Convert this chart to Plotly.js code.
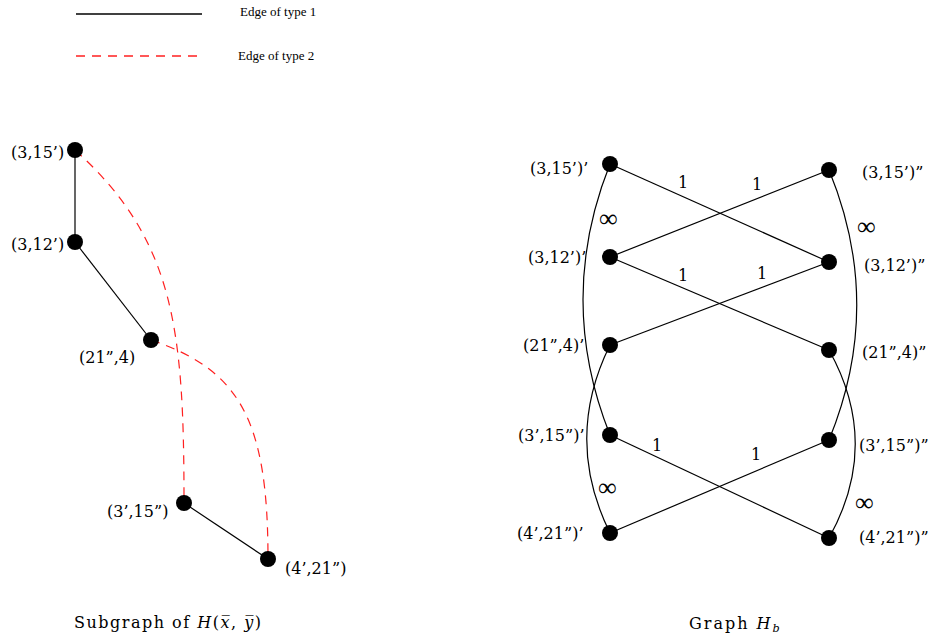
<!DOCTYPE html>
<html><head><meta charset="utf-8">
<script src="https://cdn.plot.ly/plotly-3.0.1.min.js"></script>
<style>html,body{margin:0;padding:0;background:#fff;}#chart{width:932px;height:639px;}</style>
</head><body><div id="chart"></div>
<script>
// ---------- DATA ----------
// Subgraph of H(x̄,ȳ)
const subNodeLabels = ["(3,15’)", "(3,12’)", "(21”,4)", "(3’,15”)", "(4’,21”)"];
const subNodeX = [75, 75, 151, 184, 268];
const subNodeY = [150, 242, 340, 503, 559];
const subType1Edges = [[0, 1], [1, 2], [3, 4]];
const subType2Edges = [[0, 3], [2, 4]];

// Graph H_b
const hbLeftLabels = ["(3,15’)’", "(3,12’)’", "(21”,4)’", "(3’,15”)’", "(4’,21”)’"];
const hbRightLabels = ["(3,15’)”", "(3,12’)”", "(21”,4)”", "(3’,15”)”", "(4’,21”)”"];
const hbLeftX = [610, 610, 610, 610, 610];
const hbLeftY = [164, 257, 345, 435, 533];
const hbRightX = [829, 829, 829, 829, 829];
const hbRightY = [170, 262, 350, 440, 538];
const hbCrossEdges = [[0, 1], [1, 0], [1, 2], [2, 1], [3, 4], [4, 3]]; // [left, right]
const hbCrossWeights = ["1", "1", "1", "1", "1", "1"];
const hbInfEdges = [[0, 3], [2, 4]]; // same-side arcs
const hbInfWeight = "∞";

const legendLabels = ["Edge of type 1", "Edge of type 2"];
const titles = ["Subgraph of <i>H</i>(<i>x̅</i>, <i>y̅</i>)", "Graph <i>H</i><sub><i>b</i></sub>"];

// ---------- STYLE ----------
const serif = "DejaVu Serif";
const black = "#000";
const red = "#ff2020";
const nodeSize = 16;
const lw = 1.2;
const subLabelStyle = [
  {xa: "right", xs: -9, ys: -2}, {xa: "right", xs: -9, ys: -2},
  {xa: "right", xs: -14, ys: -17}, {xa: "right", xs: -14, ys: -8},
  {xa: "left", xs: 15, ys: -9}
];
const hbLeftLabelStyle = [{xs: -20, ys: -4}, {xs: -22, ys: 0}, {xs: -24, ys: 0}, {xs: -24, ys: 0}, {xs: -25, ys: 0}];
const hbRightLabelStyle = [{xs: 31, ys: -2}, {xs: 33, ys: -3}, {xs: 31, ys: -2}, {xs: 28, ys: -5}, {xs: 28, ys: 1}];
const crossLabelT = [0.333, 0.671, 0.333, 0.694, 0.215, 0.667];
const crossLabelYS = [14, 14, 12, 14, 12, 16];
// bend control points for red curves (relative to endpoints)
const subCurveCtrl = [[[100, 90], [0, -173]], [[89, 30], [0, -139]]];
const leftArcBulge = [36, 31];
const rightArcBulge = [37, 35];
const infLabelPos = [[608, 218], [607, 487], [866, 226], [864, 502]];

// ---------- BUILD ----------
const traces = [];
const shapes = [];
const annotations = [];

function lineTrace(x0, y0, x1, y1) {
  return {x: [x0, x1], y: [y0, y1], type: "scatter", mode: "lines",
    line: {color: black, width: lw}, hoverinfo: "skip", showlegend: false};
}

// sub type 1 edges
subType1Edges.forEach(([a, b]) => traces.push(lineTrace(subNodeX[a], subNodeY[a], subNodeX[b], subNodeY[b])));
// sub type 2 edges (curved dashed)
subType2Edges.forEach(([a, b], i) => {
  const [c1, c2] = subCurveCtrl[i];
  const x0 = subNodeX[a], y0 = subNodeY[a], x1 = subNodeX[b], y1 = subNodeY[b];
  shapes.push({type: "path", xref: "x", yref: "y", layer: "below",
    path: `M ${x0},${y0} C ${x0 + c1[0]},${y0 + c1[1]} ${x1 + c2[0]},${y1 + c2[1]} ${x1},${y1}`,
    line: {color: red, width: lw, dash: "9px,7px"}});
});
// Hb cross edges
hbCrossEdges.forEach(([l, r], i) => {
  traces.push(lineTrace(hbLeftX[l], hbLeftY[l], hbRightX[r], hbRightY[r]));
  const t = crossLabelT[i];
  annotations.push({x: hbLeftX[l] + t * (hbRightX[r] - hbLeftX[l]), y: hbLeftY[l] + t * (hbRightY[r] - hbLeftY[l]),
    xref: "x", yref: "y", text: hbCrossWeights[i], showarrow: false, yshift: crossLabelYS[i],
    font: {family: serif, size: 16, color: black}});
});
// Hb arcs
hbInfEdges.forEach(([a, b], i) => {
  const x0 = hbLeftX[a], y0 = hbLeftY[a], x1 = hbLeftX[b], y1 = hbLeftY[b];
  const h = (y1 - y0) / 3, d = leftArcBulge[i];
  shapes.push({type: "path", xref: "x", yref: "y", layer: "below",
    path: `M ${x0},${y0} C ${x0 - d},${y0 + h} ${x1 - d},${y1 - h} ${x1},${y1}`,
    line: {color: black, width: lw}});
  const u0 = hbRightX[a], v0 = hbRightY[a], u1 = hbRightX[b], v1 = hbRightY[b];
  const g = (v1 - v0) / 3, e = rightArcBulge[i];
  shapes.push({type: "path", xref: "x", yref: "y", layer: "below",
    path: `M ${u0},${v0} C ${u0 + e},${v0 + g} ${u1 + e},${v1 - g} ${u1},${v1}`,
    line: {color: black, width: lw}});
});
infLabelPos.forEach(p => annotations.push({x: p[0], y: p[1], xref: "x", yref: "y", text: hbInfWeight,
  showarrow: false, font: {family: "Liberation Serif", size: 26, color: black}}));

// nodes
traces.push({x: subNodeX.concat(hbLeftX, hbRightX), y: subNodeY.concat(hbLeftY, hbRightY),
  type: "scatter", mode: "markers", marker: {color: black, size: nodeSize}, hoverinfo: "skip", showlegend: false});

// labels
const lblFont = {family: serif, size: 16, color: black};
subNodeLabels.forEach((t, i) => annotations.push({x: subNodeX[i], y: subNodeY[i], xref: "x", yref: "y", text: t,
  showarrow: false, xanchor: subLabelStyle[i].xa, xshift: subLabelStyle[i].xs, yshift: subLabelStyle[i].ys, font: lblFont}));
hbLeftLabels.forEach((t, i) => annotations.push({x: hbLeftX[i], y: hbLeftY[i], xref: "x", yref: "y", text: t,
  showarrow: false, xanchor: "right", xshift: hbLeftLabelStyle[i].xs, yshift: hbLeftLabelStyle[i].ys, font: lblFont}));
hbRightLabels.forEach((t, i) => annotations.push({x: hbRightX[i], y: hbRightY[i], xref: "x", yref: "y", text: t,
  showarrow: false, xanchor: "left", xshift: hbRightLabelStyle[i].xs, yshift: hbRightLabelStyle[i].ys, font: lblFont}));

// legend (drawn)
shapes.push({type: "line", xref: "x", yref: "y", x0: 76, x1: 202, y0: 14, y1: 14, line: {color: black, width: 1.3}});
shapes.push({type: "line", xref: "x", yref: "y", x0: 76, x1: 202, y0: 56, y1: 56, line: {color: red, width: 1.3, dash: "9px,7px"}});
annotations.push({x: 238, y: 11, xref: "x", yref: "y", text: legendLabels[0], showarrow: false, xanchor: "left",
  font: {family: "Liberation Serif", size: 13, color: black}});
annotations.push({x: 236, y: 55, xref: "x", yref: "y", text: legendLabels[1], showarrow: false, xanchor: "left",
  font: {family: "Liberation Serif", size: 13, color: black}});

// titles
annotations.push({x: 168, y: 622, xref: "x", yref: "y", text: `<span style="letter-spacing:1.5px">${titles[0]}</span>`,
  showarrow: false, font: {family: serif, size: 16, color: black}});
annotations.push({x: 735, y: 624, xref: "x", yref: "y", text: `<span style="letter-spacing:2px">${titles[1]}</span>`,
  showarrow: false, font: {family: serif, size: 16, color: black}});

const layout = {
  width: 932, height: 639, margin: {l: 0, r: 0, t: 0, b: 0},
  paper_bgcolor: "#fff", plot_bgcolor: "#fff", showlegend: false,
  xaxis: {range: [0, 932], visible: false, fixedrange: true},
  yaxis: {range: [639, 0], visible: false, fixedrange: true},
  shapes: shapes, annotations: annotations
};
Plotly.newPlot("chart", traces, layout, {staticPlot: true, displayModeBar: false});
</script></body></html>
